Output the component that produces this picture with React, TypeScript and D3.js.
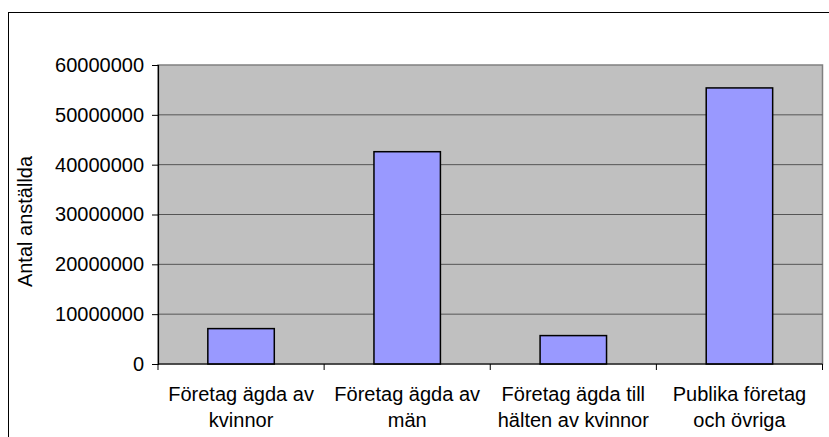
import React, { useEffect, useRef } from 'react';
import * as d3 from 'd3';

// category labels, already broken into the two lines the chart shows
const categories = [
  ['Företag ägda av', 'kvinnor'],
  ['Företag ägda av', 'män'],
  ['Företag ägda till', 'hälten av kvinnor'],
  ['Publika företag', 'och övriga'],
];
const values = [7100000, 42600000, 5700000, 55400000];
const yTicks = [0, 10000000, 20000000, 30000000, 40000000, 50000000, 60000000];
const yTitle = 'Antal anställda';

const W = 829;
const H = 437;
const FONT = 'Arial, "Liberation Sans", sans-serif';

export default function App() {
  const ref = useRef<SVGSVGElement>(null);

  useEffect(() => {
    const margin = { left: 158, right: 6.5, top: 65, bottom: 73 };
    const width = W - margin.left - margin.right;
    const height = H - margin.top - margin.bottom;

    const svg = d3.select(ref.current);
    svg.selectAll('*').remove();

    // outer chart border (runs off the right and bottom edges)
    svg.append('rect')
      .attr('x', 8.5).attr('y', 12.5)
      .attr('width', W + 20).attr('height', H + 20)
      .attr('fill', '#fff').attr('stroke', '#000').attr('stroke-width', 1);

    const keys = categories.map((c, i) => String(i));
    const x = d3.scaleBand().domain(keys).range([0, width]).paddingInner(0).paddingOuter(0);
    const y = d3.scaleLinear().domain([0, 60000000]).range([height, 0]);

    const g = svg.append('g').attr('transform', `translate(${margin.left},${margin.top})`);

    g.append('rect')
      .attr('width', width).attr('height', height)
      .attr('fill', '#c0c0c0').attr('stroke', '#808080').attr('stroke-width', 1.5);

    g.selectAll('line.grid').data(yTicks.slice(1, -1)).enter().append('line')
      .attr('class', 'grid')
      .attr('x1', 0).attr('x2', width)
      .attr('y1', d => y(d)).attr('y2', d => y(d))
      .attr('stroke', '#555').attr('stroke-width', 1);

    const barW = x.bandwidth() * 0.4;
    g.selectAll('rect.bar').data(values).enter().append('rect')
      .attr('class', 'bar')
      .attr('x', (d, i) => (x(String(i)) as number) + (x.bandwidth() - barW) / 2)
      .attr('width', barW)
      .attr('y', d => y(d))
      .attr('height', d => height - y(d))
      .attr('fill', '#9999ff').attr('stroke', '#000').attr('stroke-width', 1.5);

    // y axis
    const yAxis = g.append('g')
      .call(d3.axisLeft(y).tickValues(yTicks).tickSize(6).tickPadding(8).tickFormat(d3.format('d')));
    yAxis.select('.domain').attr('stroke', '#000').attr('stroke-width', 1.2);
    yAxis.selectAll('.tick line').attr('stroke', '#000');
    yAxis.selectAll('text')
      .attr('font-family', FONT).attr('font-size', 20).attr('fill', '#000');

    // x axis: ticks at the band edges
    g.append('line')
      .attr('x1', 0).attr('x2', width).attr('y1', height).attr('y2', height)
      .attr('stroke', '#000').attr('stroke-width', 1.2);
    const edges = keys.map(k => x(k) as number).concat([width]);
    g.selectAll('line.xtick').data(edges).enter().append('line')
      .attr('class', 'xtick')
      .attr('x1', d => d).attr('x2', d => d)
      .attr('y1', height).attr('y2', height + 6)
      .attr('stroke', '#000');

    const labels = g.selectAll('text.xlab').data(categories).enter().append('text')
      .attr('class', 'xlab')
      .attr('font-family', FONT).attr('font-size', 20).attr('fill', '#000')
      .attr('text-anchor', 'middle');
    labels.each(function (lines, i) {
      const cx = (x(String(i)) as number) + x.bandwidth() / 2;
      d3.select(this).selectAll('tspan').data(lines).enter().append('tspan')
        .attr('x', cx)
        .attr('y', (d, j) => height + 37 + j * 26)
        .text(d => d);
    });

    svg.append('text')
      .attr('transform', `translate(32,${margin.top + height / 2 + 7}) rotate(-90)`)
      .attr('text-anchor', 'middle')
      .attr('font-family', FONT).attr('font-size', 20).attr('fill', '#000')
      .text(yTitle);
  }, []);

  return (
    <svg ref={ref} width={W} height={H}
      style={{ position: 'absolute', left: 0, top: 0, background: '#fff' }} />
  );
}
